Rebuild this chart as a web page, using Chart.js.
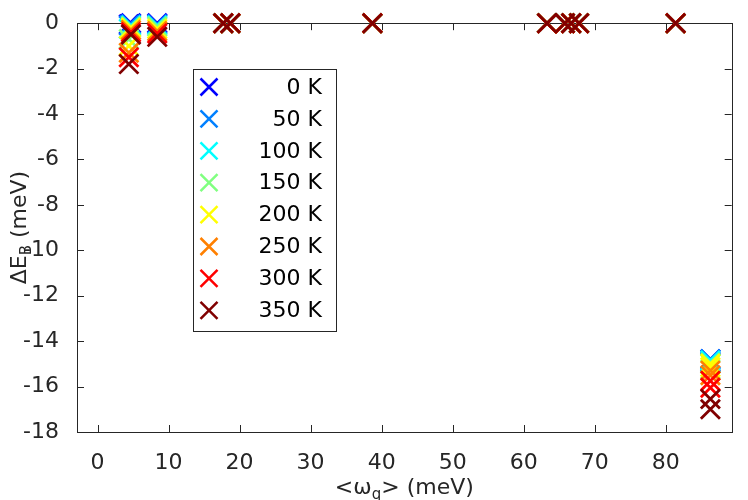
<!DOCTYPE html>
<html>
<head>
<meta charset="utf-8">
<script src="https://cdn.jsdelivr.net/npm/chart.js"></script>
<style>
  html, body { margin: 0; padding: 0; background: #fff; }
  #wrap { width: 748px; height: 500px; }
</style>
</head>
<body>
<div id="wrap"><canvas id="chart" width="748" height="500"></canvas></div>
<script>
// temperatures (legend labels) and jet(8) colours
var temps = ['0 K', '50 K', '100 K', '150 K', '200 K', '250 K', '300 K', '350 K'];
var colors = ['#0000ff', '#0080ff', '#00ffff', '#80ff80', '#ffff00', '#ff8000', '#ff0000', '#800000'];

// phonon mode energies <w_q> (meV)
var modeX = [4.4, 4.7, 8.4, 17.7, 18.7, 38.7, 63.3, 65.8, 66.7, 67.8, 81.4, 86.3, 86.3];

// binding energy shift dE_B (meV) per temperature, one value per mode
var dE0   = [-0.05, 0,     0,     0, 0, 0, 0, 0, 0, 0, 0, -14.8,  -14.9];
var dE50  = [-0.1,  -0.05, -0.05, 0, 0, 0, 0, 0, 0, 0, 0, -14.8,  -14.95];
var dE100 = [-0.25, -0.1,  -0.1,  0, 0, 0, 0, 0, 0, 0, 0, -14.85, -15.0];
var dE150 = [-0.7,  -0.15, -0.15, 0, 0, 0, 0, 0, 0, 0, 0, -14.95, -15.25];
var dE200 = [-1.0,  -0.2,  -0.25, 0, 0, 0, 0, 0, 0, 0, 0, -15.0,  -15.15];
var dE250 = [-1.3,  -0.3,  -0.35, 0, 0, 0, 0, 0, 0, 0, 0, -15.3,  -15.5];
var dE300 = [-1.5,  -0.4,  -0.45, 0, 0, 0, 0, 0, 0, 0, 0, -15.75, -16.05];
var dE350 = [-1.8,  -0.5,  -0.6,  0, 0, 0, 0, 0, 0, 0, 0, -16.55, -17.0];
var allDE = [dE0, dE50, dE100, dE150, dE200, dE250, dE300, dE350];

var xTicks = [0, 10, 20, 30, 40, 50, 60, 70, 80];
var yTicks = [0, -2, -4, -6, -8, -10, -12, -14, -16, -18];

var FONT = 'DejaVu Sans';
var AXIS = '#262626';

var datasets = allDE.map(function (vals, i) {
    return {
        label: temps[i],
        data: vals.map(function (v, j) { return { x: modeX[j], y: v }; }),
        borderColor: colors[i],
        backgroundColor: colors[i],
        pointStyle: 'crossRot',
        pointRadius: 13.5,
        pointHoverRadius: 13.5,
        pointBorderWidth: 2.8,
        showLine: false,
        clip: false,
        order: temps.length - i   // later temperatures drawn on top
    };
});

function drawX(ctx, x, y, h, color) {
    ctx.save();
    ctx.strokeStyle = color;
    ctx.lineWidth = 2.5;
    ctx.beginPath();
    ctx.moveTo(x - h, y - h); ctx.lineTo(x + h, y + h);
    ctx.moveTo(x - h, y + h); ctx.lineTo(x + h, y - h);
    ctx.stroke();
    ctx.restore();
}

// box, inward ticks, titles, legend
var frame = {
    id: 'frame',
    beforeDatasetsDraw: function (chart) {
        var ctx = chart.ctx, a = chart.chartArea;
        var xs = chart.scales.x, ys = chart.scales.y;
        ctx.save();
        ctx.strokeStyle = AXIS;
        ctx.lineWidth = 1;
        ctx.strokeRect(Math.round(a.left) + 0.5, Math.round(a.top) + 0.5,
            Math.round(a.right - a.left), Math.round(a.bottom - a.top));
        ctx.beginPath();
        xTicks.forEach(function (t) {
            var px = Math.round(xs.getPixelForValue(t)) + 0.5;
            ctx.moveTo(px, a.bottom); ctx.lineTo(px, a.bottom - 7);
            ctx.moveTo(px, a.top); ctx.lineTo(px, a.top + 7);
        });
        yTicks.forEach(function (t) {
            var py = Math.round(ys.getPixelForValue(t)) + 0.5;
            ctx.moveTo(a.left, py); ctx.lineTo(a.left + 7, py);
            ctx.moveTo(a.right, py); ctx.lineTo(a.right - 7, py);
        });
        ctx.stroke();
        ctx.restore();
    },
    afterDraw: function (chart) {
        var ctx = chart.ctx, a = chart.chartArea;
        ctx.save();
        ctx.fillStyle = AXIS;
        ctx.textBaseline = 'alphabetic';

        // x title: <w_q> (meV)
        var big = '22px "' + FONT + '"', small = '15px "' + FONT + '"';
        ctx.font = big; var w1 = ctx.measureText('<\u03c9').width;
        ctx.font = small; var w2 = ctx.measureText('q').width;
        ctx.font = big; var w3 = ctx.measureText('> (meV)').width;
        var cx = (a.left + a.right) / 2, start = cx - (w1 + w2 + w3) / 2, by = 494;
        ctx.font = big; ctx.fillText('<\u03c9', start, by);
        ctx.font = small; ctx.fillText('q', start + w1, by + 5);
        ctx.font = big; ctx.fillText('> (meV)', start + w1 + w2, by);

        // y title: dE_B (meV)
        ctx.translate(26, (a.top + a.bottom) / 2);
        ctx.rotate(-Math.PI / 2);
        ctx.font = big; var v1 = ctx.measureText('\u0394E').width;
        ctx.font = small; var v2 = ctx.measureText('B').width;
        ctx.font = big; var v3 = ctx.measureText(' (meV)').width;
        var s = -(v1 + v2 + v3) / 2;
        ctx.font = big; ctx.fillText('\u0394E', s, 0);
        ctx.font = small; ctx.fillText('B', s + v1, 5);
        ctx.font = big; ctx.fillText(' (meV)', s + v1 + v2, 0);
        ctx.restore();

        // legend
        ctx.save();
        ctx.fillStyle = '#fff';
        ctx.fillRect(193, 69, 143, 262);
        ctx.strokeStyle = AXIS;
        ctx.lineWidth = 1;
        ctx.strokeRect(193.5, 69.5, 143, 262);
        ctx.font = '22px "' + FONT + '"';
        ctx.fillStyle = '#000';
        ctx.textAlign = 'right';
        ctx.textBaseline = 'middle';
        temps.forEach(function (t, i) {
            var y = 87 + i * 31.9;
            drawX(ctx, 209, y, 8.5, colors[i]);
            ctx.fillText(t, 322, y + 1);
        });
        ctx.restore();
    }
};

var chart = new Chart(document.getElementById('chart').getContext('2d'), {
    type: 'scatter',
    data: { datasets: datasets },
    options: {
        responsive: false,
        animation: false,
        events: [],
        layout: { padding: { top: 10, right: 2, left: 0, bottom: 0 } },
        plugins: { legend: { display: false }, tooltip: { enabled: false } },
        scales: {
            x: {
                type: 'linear',
                min: -2.9,
                max: 89.3,
                afterBuildTicks: function (s) { s.ticks = xTicks.map(function (v) { return { value: v }; }); },
                afterFit: function (s) { s.height = 68; },
                grid: { display: false },
                border: { display: false },
                ticks: { color: AXIS, font: { family: FONT, size: 22 }, padding: 10, maxRotation: 0, autoSkip: false }
            },
            y: {
                type: 'linear',
                min: -18,
                max: 0,
                afterBuildTicks: function (s) { s.ticks = yTicks.map(function (v) { return { value: v }; }); },
                afterFit: function (s) { s.width = 77; },
                grid: { display: false },
                border: { display: false },
                ticks: { color: AXIS, font: { family: FONT, size: 22 }, padding: 10, autoSkip: false }
            }
        }
    },
    plugins: [frame]
});
</script>
</body>
</html>
